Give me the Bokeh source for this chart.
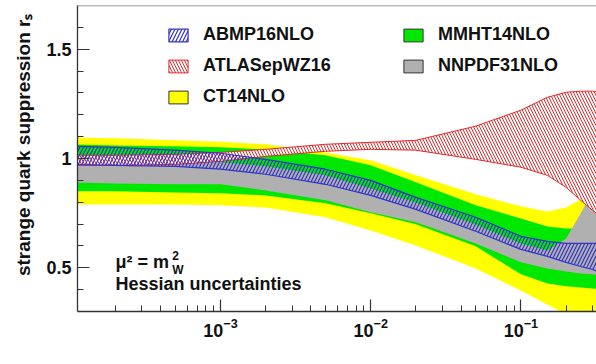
from bokeh.plotting import figure
from bokeh.models import (ColumnDataSource, Legend, LegendItem, FixedTicker, Range1d,
                          Label, Title, Span)
from bokeh.embed import file_html
from bokeh.resources import INLINE

# ---- data ----
x_vals = [1.0e-4, 2.0e-4, 5.0e-4, 1.0e-3, 2.0e-3, 5.0e-3, 1.0e-2, 2.0e-2,
          5.0e-2, 0.10, 0.15, 0.20, 0.25, 0.30, 0.35]

ct14_hi = [1.097, 1.093, 1.083, 1.077, 1.065, 1.028, 0.992, 0.923, 0.836, 0.781, 0.758, 0.776, 0.813, 0.877, 0.946]
ct14_lo = [0.790, 0.790, 0.790, 0.786, 0.776, 0.731, 0.671, 0.602, 0.497, 0.396, 0.332, 0.286, 0.277, 0.295, 0.327]
mmht_hi = [1.065, 1.060, 1.056, 1.051, 1.042, 1.015, 0.969, 0.891, 0.786, 0.726, 0.689, 0.680, 0.680, 0.740, 0.809]
mmht_lo = [0.850, 0.850, 0.845, 0.841, 0.831, 0.795, 0.749, 0.699, 0.598, 0.470, 0.428, 0.415, 0.410, 0.405, 0.401]
nnpdf_hi = [1.001, 0.996, 0.992, 0.983, 0.965, 0.923, 0.863, 0.799, 0.698, 0.611, 0.579, 0.634, 0.749, 0.850, 0.932]
nnpdf_lo = [0.891, 0.886, 0.882, 0.882, 0.854, 0.809, 0.754, 0.708, 0.611, 0.525, 0.497, 0.483, 0.474, 0.470, 0.465]
atlas_hi = [1.015, 1.015, 1.019, 1.028, 1.042, 1.065, 1.074, 1.083, 1.148, 1.221, 1.280, 1.303, 1.308, 1.308, 1.303]
atlas_lo = [0.969, 0.969, 0.973, 0.987, 1.010, 1.033, 1.042, 1.038, 0.996, 0.960, 0.923, 0.868, 0.809, 0.763, 0.727]
abmp_hi = [1.056, 1.051, 1.038, 1.024, 0.996, 0.951, 0.900, 0.822, 0.731, 0.644, 0.621, 0.612, 0.612, 0.612, 0.612]
abmp_lo = [0.973, 0.969, 0.964, 0.951, 0.928, 0.882, 0.831, 0.767, 0.667, 0.584, 0.552, 0.525, 0.506, 0.492, 0.474]

names = ["ABMP16NLO", "ATLASepWZ16", "CT14NLO", "MMHT14NLO", "NNPDF31NLO"]

x_major = [1e-3, 1e-2, 1e-1]
y_major = [0.5, 1.0, 1.5]
y_minor = [0.4, 0.6, 0.7, 0.8, 0.9, 1.1, 1.2, 1.3, 1.4, 1.6]
y_labels = {0.5: "0.5", 1.0: "1", 1.5: "1.5"}

YELLOW = "#ffff00"
GREEN = "#00e800"
GRAY = "#b0b0b0"
RED = "#dd2a2a"
BLUE = "#3333cc"
FONT = "Liberation Sans"

x_minor = [m * d for d in [1e-4, 1e-3, 1e-2, 1e-1] for m in range(2, 10)]

# ---- figure ----
p = figure(width=596, height=364, x_axis_type="log",
           x_range=Range1d(1.117e-4, 0.3185), y_range=Range1d(0.3, 1.7),
           output_backend="svg", toolbar_location=None,
           min_border_left=76, min_border_right=0, min_border_top=5, min_border_bottom=53)
p.background_fill_color = "white"
p.border_fill_color = "white"
p.outline_line_color = None
p.grid.visible = False

src = ColumnDataSource(dict(x=x_vals, ct_hi=ct14_hi, ct_lo=ct14_lo, mm_hi=mmht_hi, mm_lo=mmht_lo,
                            nn_hi=nnpdf_hi, nn_lo=nnpdf_lo))

def outline(hi, lo):
    return x_vals + x_vals[::-1], hi + lo[::-1]

# bands in drawing order
p.varea(x="x", y1="ct_lo", y2="ct_hi", source=src, fill_color=YELLOW)
p.varea(x="x", y1="mm_lo", y2="mm_hi", source=src, fill_color=GREEN)
p.varea(x="x", y1="nn_lo", y2="nn_hi", source=src, fill_color=GRAY)

ax_, ay_ = outline(atlas_hi, atlas_lo)
r_atlas = p.patch(ax_, ay_, fill_color="white", hatch_pattern="\\", hatch_color=RED,
                  hatch_scale=6, hatch_weight=1.0, line_color=RED, line_width=1.0)
bx_, by_ = outline(abmp_hi, abmp_lo)
r_abmp = p.patch(bx_, by_, fill_color=None, hatch_pattern="/", hatch_color=BLUE,
                 hatch_scale=7, hatch_weight=1.2, line_color=BLUE, line_width=1.2)

# legend proxies (same data, hidden) so the legend boxes get a dark frame
cx_, cy_ = outline(ct14_hi, ct14_lo)
r_ct = p.patch(cx_, cy_, fill_color=YELLOW, line_color="#333333", line_width=1, visible=False)
mx_, my_ = outline(mmht_hi, mmht_lo)
r_mm = p.patch(mx_, my_, fill_color=GREEN, line_color="#333333", line_width=1, visible=False)
nx_, ny_ = outline(nnpdf_hi, nnpdf_lo)
r_nn = p.patch(nx_, ny_, fill_color=GRAY, line_color="#333333", line_width=1, visible=False)

def make_legend(items, loc):
    lg = Legend(items=items, location=loc, orientation="vertical",
                border_line_color=None, background_fill_alpha=0, padding=0, margin=0,
                spacing=10, glyph_width=24, glyph_height=16, label_height=16,
                label_standoff=13, label_text_font=FONT, label_text_font_style="bold",
                label_text_font_size="18px", label_text_color="#111111",
                inactive_fill_alpha=0)
    return lg

leg1 = make_legend([LegendItem(label=names[0], renderers=[r_abmp]),
                    LegendItem(label=names[1], renderers=[r_atlas]),
                    LegendItem(label=names[2], renderers=[r_ct])], (89, 204))
leg2 = make_legend([LegendItem(label=names[3], renderers=[r_mm]),
                    LegendItem(label=names[4], renderers=[r_nn])], (324, 235))
p.add_layout(leg1)
p.add_layout(leg2)

# axes
xa = p.xaxis[0]
ya = p.yaxis[0]
xa.ticker = FixedTicker(ticks=x_major, minor_ticks=x_minor)
ya.ticker = FixedTicker(ticks=y_major, minor_ticks=y_minor)
ya.major_label_overrides = y_labels
for ax in (xa, ya):
    ax.major_tick_in = 12
    ax.major_tick_out = 0
    ax.minor_tick_in = 6
    ax.minor_tick_out = 0
    ax.axis_line_color = "#333333"
    ax.axis_line_width = 1.3
    ax.major_tick_line_color = "#333333"
    ax.minor_tick_line_color = "#333333"
    ax.major_tick_line_width = 1.2
    ax.minor_tick_line_width = 1.0
    ax.major_label_text_font = FONT
    ax.major_label_text_font_style = "bold"
    ax.major_label_text_font_size = "18px"
    ax.major_label_text_color = "#111111"
    ax.major_label_standoff = 6

p.add_layout(Span(location=1.7, dimension="width", line_color="#777777", line_width=1.5))

p.add_layout(Title(text="strange quark suppression r\u209b", align="right",
                   text_font=FONT, text_font_style="bold", text_font_size="19px",
                   text_color="#111111", standoff=20, offset=8), "left")

# annotations
lab_kw = dict(text_font=FONT, text_font_style="bold", text_color="#111111")
p.add_layout(Label(x=2.0e-4, y=0.479, text="\u03bc\u00b2 = m", text_font_size="18px", **lab_kw))
p.add_layout(Label(x=4.78e-4, y=0.534, text="2", text_font_size="12px", **lab_kw))
p.add_layout(Label(x=4.78e-4, y=0.458, text="W", text_font_size="12px", **lab_kw))
p.add_layout(Label(x=2.0e-4, y=0.378, text="Hessian uncertainties", text_font_size="18px", **lab_kw))

open("out.html", "w").write(file_html(p, INLINE))
